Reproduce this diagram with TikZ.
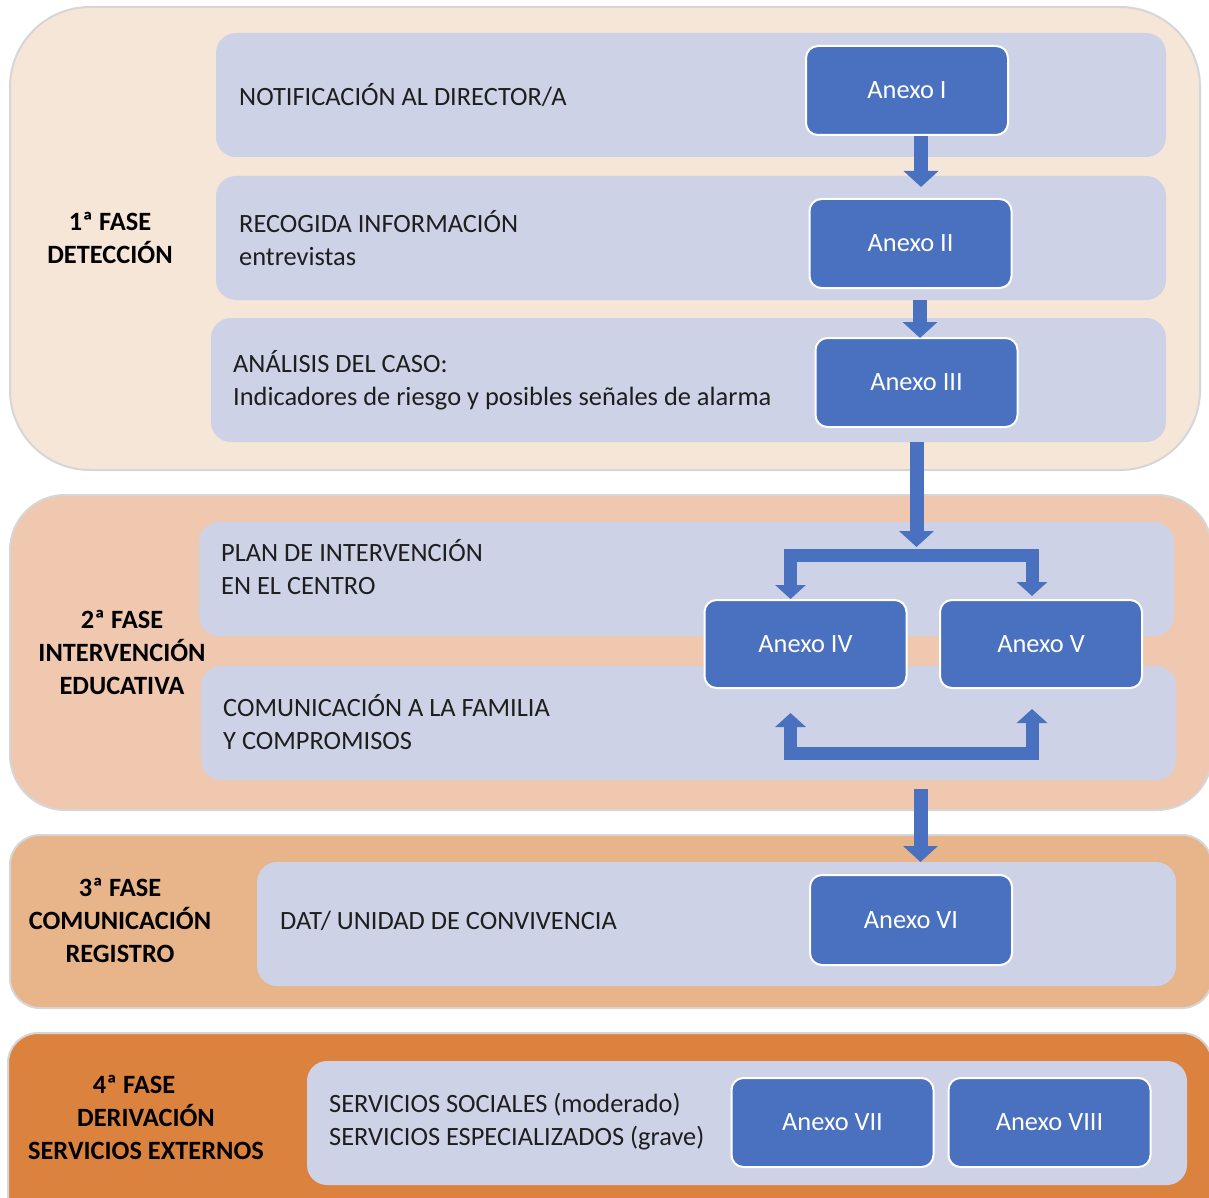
\documentclass[tikz,border=0pt]{standalone}
\usepackage{fontspec}
\setmainfont{Carlito}
\usetikzlibrary{arrows.meta,calc,positioning}
\definecolor{fasei}{HTML}{F5E6D8}
\definecolor{faseii}{HTML}{F0C8AF}
\definecolor{faseiii}{HTML}{E8B489}
\definecolor{faseiv}{HTML}{DB823F}
\definecolor{lila}{HTML}{CDD2E6}
\definecolor{azul}{HTML}{4A70C0}
\definecolor{borde}{HTML}{D6D6D6}
\definecolor{texto}{HTML}{1E1E1E}
\begin{document}
\begin{tikzpicture}[x=1pt,y=-1pt,font=\fontsize{26.4}{33}\selectfont,line join=round,
	fase/.style={draw=borde,line width=2pt,rounded corners=#1,inner sep=0pt,outer sep=0pt},
	fila/.style={fill=lila,rounded corners=20pt,inner sep=0pt,outer sep=0pt},
	anexo/.style={draw=white,line width=2pt,fill=azul,text=white,rounded corners=12pt,
		minimum width=202,minimum height=89,inner sep=0pt},
	txt/.style={anchor=west,align=left,inner sep=0pt,text=texto},
	etiq/.style={align=center,inner sep=0pt,font=\fontsize{26.4}{33}\selectfont\bfseries},
	blk/.style={draw=azul,line width=14pt,-{Triangle[width=34pt,length=16pt]}},
	horq/.style={draw=azul,line width=13pt,line join=miter,{Triangle[width=30pt,length=14pt]}-{Triangle[width=30pt,length=14pt]}}]
	\useasboundingbox (0,0) rectangle (1209,1198);
	% fases
	\node[fase=80pt,fill=fasei,minimum width=1190,minimum height=463] (F1) at (605,238.5) {};
	\node[fase=55pt,fill=faseii,minimum width=1202,minimum height=315] (F2) at (611,652.5) {};
	\node[fase=30pt,fill=faseiii,minimum width=1202,minimum height=173] (F3) at (611,921.5) {};
	\node[fase=30pt,fill=faseiv,minimum width=1204,minimum height=192] (F4) at (610,1129) {};
	% filas
	\node[fila,minimum width=950,minimum height=124] (R1) at (691,95) {};
	\node[fila,minimum width=950,minimum height=124] (R2) at (691,238) {};
	\node[fila,minimum width=955,minimum height=124] (R3) at (688.5,380) {};
	\node[fila,minimum width=975,minimum height=114] (R4) at (686.5,579) {};
	\node[fila,minimum width=975,minimum height=114] (R5) at (688.5,723) {};
	\node[fila,minimum width=919,minimum height=124] (R6) at (716.5,924) {};
	\node[fila,minimum width=880,minimum height=124] (R7) at (747,1123) {};
	% etiquetas
	\node[etiq] (L1) at (110,237.5) {1ª FASE\\DETECCIÓN};
	\node[etiq] (L2) at (122,652) {2ª FASE\\INTERVENCIÓN\\EDUCATIVA};
	\node[etiq] (L3) at (120,920) {3ª FASE\\COMUNICACIÓN\\REGISTRO};
	\node[etiq] (L4) at (146,1117.5) {4ª FASE\hspace*{24pt}\\DERIVACIÓN\hspace*{16pt}\\SERVICIOS EXTERNOS};
	% textos
	\node[txt,right=23pt of R1.west] (T1) {NOTIFICACIÓN AL DIRECTOR/A};
	\node[txt,right=23pt of R2.west] (T2) {RECOGIDA INFORMACIÓN\\entrevistas};
	\node[txt,right=22pt of R3.west] (T3) {ANÁLISIS DEL CASO:\\Indicadores de riesgo y posibles señales de alarma};
	\node[txt] (T4) at (221,567.5) {PLAN DE INTERVENCIÓN\\EN EL CENTRO};
	\node[txt] (T5) at (223,722) {COMUNICACIÓN A LA FAMILIA\\Y COMPROMISOS};
	\node[txt] (T6) at (280,921) {DAT/ UNIDAD DE CONVIVENCIA};
	\node[txt] (T7) at (329,1121.5) {SERVICIOS SOCIALES (moderado)\\SERVICIOS ESPECIALIZADOS (grave)};
	% anexos
	\node[anexo] (A1) at (907,90.5) {Anexo I};
	\node[anexo] (A2) at (910.5,243.5) {Anexo II};
	\node[anexo] (A3) at (916.5,382.5) {Anexo III};
	\node[anexo,minimum height=88] (A4) at (805.5,644) {Anexo IV};
	\node[anexo,minimum height=88] (A5) at (1041,644) {Anexo V};
	\node[anexo,minimum height=90] (A6) at (911,920) {Anexo VI};
	\node[anexo] (A7) at (832.5,1122.5) {Anexo VII};
	\node[anexo] (A8) at (1049.5,1122.5) {Anexo VIII};
	% flechas
	\path
	($(A1.south)+(14,0)$) coordinate (s1)
	($(A2.south)+(9.5,11)$) coordinate (s2)
	(A3.south |- R3.south) coordinate (s3)
	(920.5,789) coordinate (s4)
	($(A4.north)+(-15,0)$) coordinate (fl)
	($(A5.north)+(-9,-3)$) coordinate (fr)
	(916.5,555.5) coordinate (bar)
	($(A4.south)+(-15,24)$) coordinate (bl)
	($(A5.south)+(-9,20)$) coordinate (br)
	(916.5,753) coordinate (bar2)
	;
	\draw[blk,shorten >=11pt] (s1) -- (s1 |- A2.north);
	\draw[blk,shorten >=-1pt] (s2) -- (s2 |- A3.north);
	\draw[blk] (s3) -- ($(s3)+(0,105)$);
	\draw[horq] (fl) |- (bar) -| (fr);
	\draw[horq] (bl) |- (bar2) -| (br);
	\draw[blk] (s4) -- (s4 |- R6.north);
\end{tikzpicture}
\end{document}
